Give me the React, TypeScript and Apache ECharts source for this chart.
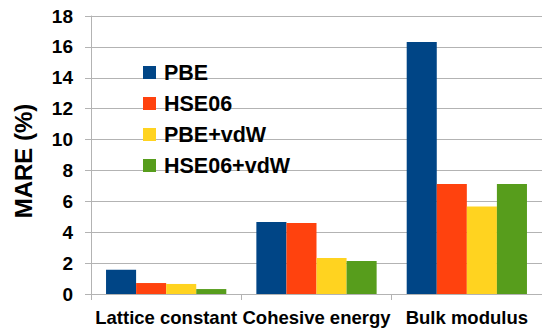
import React, { useEffect, useRef } from "react";
import * as echarts from "echarts";

const categories = ["Lattice constant", "Cohesive energy", "Bulk modulus"];
const seriesNames = ["PBE", "HSE06", "PBE+vdW", "HSE06+vdW"];
const pbe = [1.57, 4.66, 16.32];
const hse06 = [0.71, 4.6, 7.12];
const pbeVdw = [0.65, 2.33, 5.67];
const hse06Vdw = [0.32, 2.14, 7.12];
const colors = ["#004586", "#ff420e", "#ffd320", "#579d1c"];

const FONT = "'Liberation Sans', Arial, sans-serif";

export default function App() {
  const ref = useRef<HTMLDivElement>(null);
  useEffect(() => {
    if (!ref.current) return;
    const chart = echarts.init(ref.current, undefined, { renderer: "svg" });
    const data = [pbe, hse06, pbeVdw, hse06Vdw];
    chart.setOption({
      animation: false,
      backgroundColor: "#ffffff",
      grid: { left: 91, top: 16, width: 453, height: 278 },
      legend: {
        orient: "vertical",
        left: 138,
        top: 56.5,
        icon: "rect",
        itemWidth: 13,
        itemHeight: 13,
        itemGap: 9,
        textStyle: {
          fontFamily: FONT,
          fontWeight: "bold",
          fontSize: 21.5,
          color: "#000",
          lineHeight: 20,
          padding: [0, 0, 0, 3],
        },
        data: seriesNames,
      },
      xAxis: {
        type: "category",
        data: categories,
        axisLine: { show: true, lineStyle: { color: "#b3b3b3", width: 1 } },
        axisTick: { show: true, length: 6, lineStyle: { color: "#b3b3b3" } },
        axisLabel: {
          interval: 0,
          hideOverlap: false,
          fontFamily: FONT,
          fontWeight: "bold",
          fontSize: 18.5,
          color: "#000",
          margin: 14,
        },
      },
      yAxis: {
        type: "value",
        min: 0,
        max: 18,
        interval: 2,
        name: "MARE (%)",
        nameLocation: "middle",
        nameGap: 56,
        nameRotate: 90,
        nameTextStyle: {
          fontFamily: FONT,
          fontWeight: "bold",
          fontSize: 24,
          color: "#000",
          padding: [0, 12, 0, 0],
        },
        axisLine: { show: true, lineStyle: { color: "#b3b3b3", width: 1 } },
        axisTick: { show: true, length: 6, lineStyle: { color: "#b3b3b3" } },
        splitLine: { show: true, lineStyle: { color: "#b3b3b3", width: 1 } },
        axisLabel: {
          fontFamily: FONT,
          fontWeight: "bold",
          fontSize: 19,
          color: "#000",
          margin: 18,
        },
      },
      series: seriesNames.map((name, i) => ({
        name,
        type: "bar",
        data: data[i],
        barGap: "0%",
        barCategoryGap: "20%",
        itemStyle: { color: colors[i] },
      })),
    });
    return () => chart.dispose();
  }, []);
  return <div ref={ref} style={{ width: 542, height: 331, position: "absolute", left: 0, top: 0 }} />;
}
